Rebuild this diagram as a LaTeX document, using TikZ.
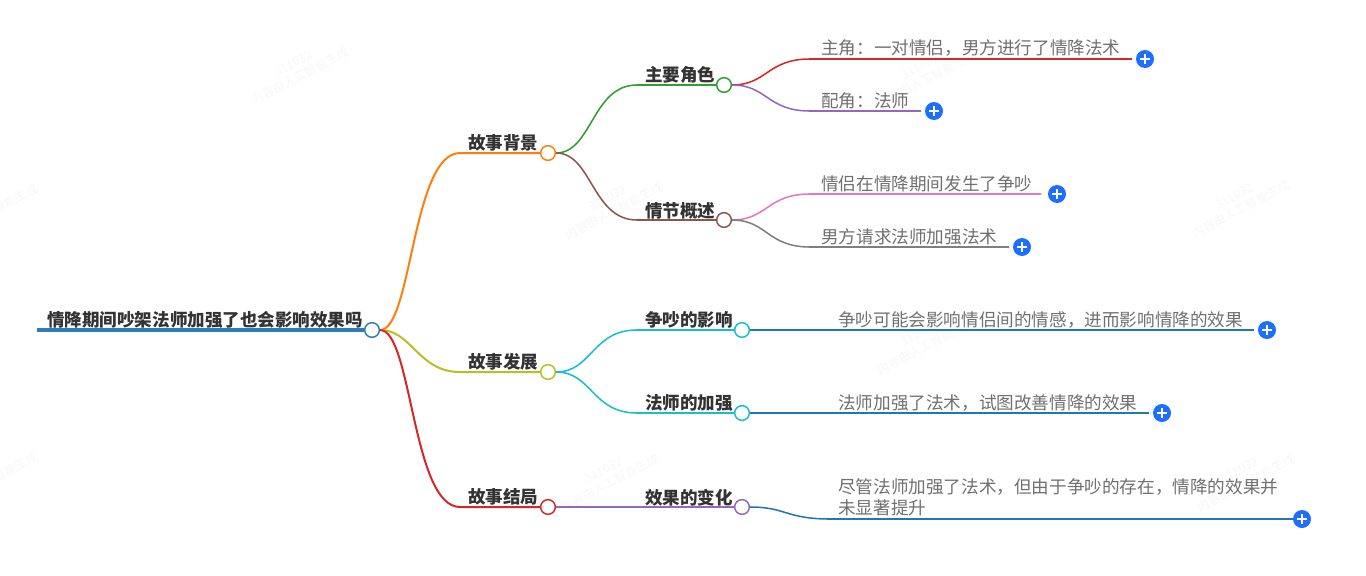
\documentclass[tikz,border=0pt]{standalone}
\usepackage{fontspec}
\usetikzlibrary{backgrounds}
\setmainfont{Noto Sans CJK SC}
\definecolor{cRoot}{HTML}{2E7DB8}
\definecolor{cOrange}{HTML}{FF7F0E}
\definecolor{cGreen}{HTML}{2CA02C}
\definecolor{cRed}{HTML}{D62728}
\definecolor{cPurple}{HTML}{9467BD}
\definecolor{cBrown}{HTML}{8C564B}
\definecolor{cPink}{HTML}{E377C2}
\definecolor{cGray}{HTML}{7F7F7F}
\definecolor{cOlive}{HTML}{BCBD22}
\definecolor{cTeal}{HTML}{17BECF}
\definecolor{cBlue}{HTML}{1F77B4}
\definecolor{cPlus}{HTML}{1E6FFF}
\definecolor{cBold}{HTML}{333333}
\definecolor{cLeaf}{HTML}{707070}
\definecolor{cMark}{HTML}{F8F8F8}
\tikzset{
  dot/.style={circle,draw=#1,line width=1.1pt,fill=white,minimum size=11pt,inner sep=0pt},
  boldtext/.style={anchor=base west,inner sep=0pt,font=\fontsize{13.15pt}{15pt}\selectfont\bfseries,text=cBold},
  leaftext/.style={anchor=base west,inner sep=0pt,font=\fontsize{13.2pt}{15.75pt}\selectfont,text=cLeaf},
  plusbtn/.style={circle,fill=cPlus,minimum size=13.5pt,inner sep=0pt,
    path picture={\draw[white,line width=0.9pt] ([xshift=-3.4pt]path picture bounding box.center)--([xshift=3.4pt]path picture bounding box.center);
                  \draw[white,line width=0.9pt] ([yshift=-3.4pt]path picture bounding box.center)--([yshift=3.4pt]path picture bounding box.center);}},
  branch/.style={line width=1.5pt,color=#1},
  twig/.style={line width=1.15pt,color=#1},
  wm/.style={rotate=28,align=center,text=cMark,font=\fontsize{9pt}{11pt}\selectfont,inner sep=0pt}
}
\begin{document}
\begin{tikzpicture}[x=0.75pt,y=-0.75pt]
\useasboundingbox (0,0) rectangle (1366,575);
\begin{pgfonlayer}{background}
\fill[white] (0,0) rectangle (1366,575);
\begin{scope}
\clip (0,0) rectangle (1366,575);
\foreach \wx/\wy/\wn in {297/70/a,924/73/b,611/205/c,-14/207/d,1238/203/e,923/340/f,607/477/g,-14/475/h,1243/477/i}{
  \node[wm] (wm\wn) at (\wx,\wy) {311032\\内容由人工智能生成};
}
\end{scope}
\end{pgfonlayer}
% dots
\node[dot=cRoot] (root) at (372,330) {};
\node[dot=cOrange] (bg) at (548,153) {};
\node[dot=cOlive] (dev) at (548,372) {};
\node[dot=cRed] (end) at (548,507) {};
\node[dot=cGreen] (role) at (724,85) {};
\node[dot=cBrown] (plot) at (724,220) {};
\node[dot=cTeal] (quarrel) at (742,330) {};
\node[dot=cTeal] (master) at (742,413) {};
\node[dot=cPurple] (change) at (742,507) {};
% plus buttons
\node[plusbtn] (p1) at (1145,59) {};
\node[plusbtn] (p2) at (934,111) {};
\node[plusbtn] (p3) at (1057,194) {};
\node[plusbtn] (p4) at (1022,247) {};
\node[plusbtn] (p5) at (1267,330) {};
\node[plusbtn] (p6) at (1162,413) {};
\node[plusbtn] (p7) at (1302,519) {};
% free ends
\coordinate (rootstart) at (37,330);
\coordinate (e1) at (1132,59);
\coordinate (e2) at (921,111);
\coordinate (e3) at (1041,194);
\coordinate (e4) at (1009,247);
\coordinate (e5) at (1254,330);
\coordinate (e6) at (1149,413);
\coordinate (e7) at (1294,519);
% texts
\node[boldtext] (t0) at (47,326.5) {情降期间吵架法师加强了也会影响效果吗};
\node[boldtext] (t1) at (468,149.5) {故事背景};
\node[boldtext] (t2) at (468,368.5) {故事发展};
\node[boldtext] (t3) at (468,503.5) {故事结局};
\node[boldtext] (t4) at (645,81.5) {主要角色};
\node[boldtext] (t5) at (645,217) {情节概述};
\node[boldtext] (t6) at (645,326.5) {争吵的影响};
\node[boldtext] (t7) at (645,409.5) {法师的加强};
\node[boldtext] (t8) at (645,504) {效果的变化};
\node[leaftext] (l1) at (821,54.5) {主角：一对情侣，男方进行了情降法术};
\node[leaftext] (l2) at (821,107) {配角：法师};
\node[leaftext] (l3) at (821,190) {情侣在情降期间发生了争吵};
\node[leaftext] (l4) at (821,243) {男方请求法师加强法术};
\node[leaftext] (l5) at (838,326) {争吵可能会影响情侣间的情感，进而影响情降的效果};
\node[leaftext] (l6) at (838,409) {法师加强了法术，试图改善情降的效果};
\node[leaftext] (l7a) at (838,493.5) {尽管法师加强了法术，但由于争吵的存在，情降的效果并};
\node[leaftext] (l7b) at (838,514.5) {未显著提升};
% connectors
\begin{pgfonlayer}{background}
\draw[cRoot,line width=3pt] (rootstart) -- (root);
\draw[branch=cOrange] (root) .. controls (412,330) and (412,153) .. (460,153) -- (bg);
\draw[branch=cOlive] (root) .. controls (412,330) and (418,372) .. (460,372) -- (dev);
\draw[branch=cRed] (root) .. controls (412,330) and (412,507) .. (460,507) -- (end);
\draw[twig=cGreen] (bg) .. controls (592,153) and (592,85) .. (637,85) -- (role);
\draw[twig=cBrown] (bg) .. controls (592,153) and (592,220) .. (637,220) -- (plot);
\draw[twig=cTeal] (dev) .. controls (592,372) and (592,330) .. (637,330) -- (quarrel);
\draw[twig=cTeal] (dev) .. controls (592,372) and (592,413) .. (637,413) -- (master);
\draw[twig=cPurple] (end) -- (change);
\draw[twig=cRed] (role) .. controls (767,85) and (767,59) .. (810,59) -- (e1);
\draw[twig=cPurple] (role) .. controls (767,85) and (767,111) .. (810,111) -- (e2);
\draw[twig=cPink] (plot) .. controls (767,220) and (767,194) .. (810,194) -- (e3);
\draw[twig=cGray] (plot) .. controls (767,220) and (767,247) .. (810,247) -- (e4);
\draw[twig=cBlue] (quarrel) -- (e5);
\draw[twig=cBlue] (master) -- (e6);
\draw[twig=cBlue] (change) .. controls (786,507) and (786,519) .. (830,519) -- (e7);
\end{pgfonlayer}
\end{tikzpicture}
\end{document}
